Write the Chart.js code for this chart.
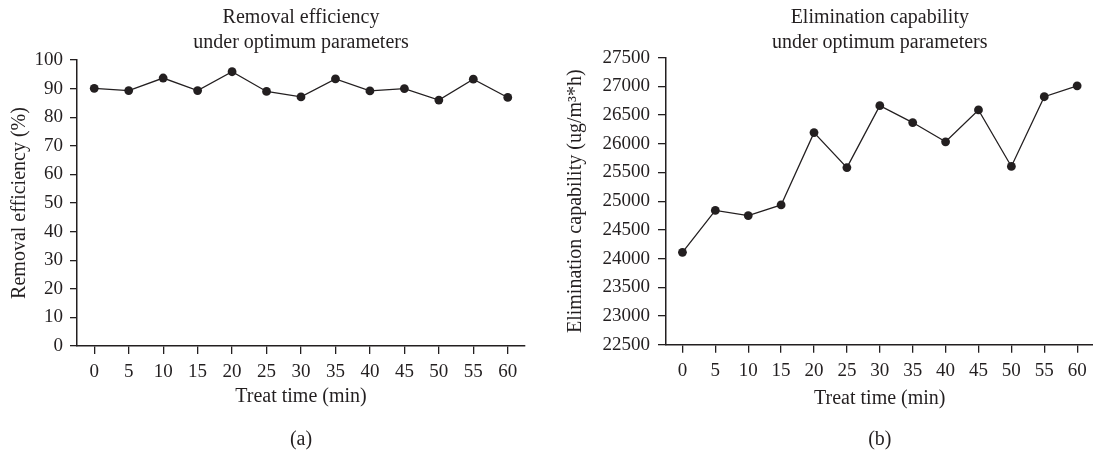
<!DOCTYPE html>
<html>
<head>
<meta charset="utf-8">
<script src="https://cdn.jsdelivr.net/npm/chart.js@4.4.1/dist/chart.umd.min.js"></script>
<style>
  html, body { margin: 0; padding: 0; background: #fff; overflow: hidden; }
  #wrap { position: relative; width: 1093px; height: 451px; overflow: hidden; }
  canvas { position: absolute; top: 0; }
</style>
</head>
<body>
<div id="wrap">
  <canvas id="c1" width="546" height="451" style="left:0px"></canvas>
  <canvas id="c2" width="552" height="451" style="left:546px"></canvas>
</div>
<script>
// ---- data ----
const treatTimes = ['0', '5', '10', '15', '20', '25', '30', '35', '40', '45', '50', '55', '60'];
const removalEfficiency = [90.1, 89.3, 93.7, 89.3, 95.9, 89.0, 87.1, 93.4, 89.2, 90.0, 86.0, 93.3, 86.9];
const eliminationCapability = [24110, 24840, 24750, 24935, 26195, 25585, 26665, 26370, 26035, 26590, 25605, 26820, 27010];

const ink = '#231f20';
const FONT = "'Liberation Serif', 'Times New Roman', serif";
Chart.defaults.font.family = FONT;
Chart.defaults.color = ink;

function makeChart(id, cfg) {
  return new Chart(document.getElementById(id), {
    type: 'line',
    data: {
      labels: treatTimes,
      datasets: [{
        data: cfg.values,
        borderColor: ink,
        backgroundColor: ink,
        borderWidth: 1.3,
        pointRadius: 4.4,
        pointHoverRadius: 4.4,
        pointBackgroundColor: ink,
        pointBorderColor: ink,
        pointBorderWidth: 0,
        tension: 0,
        clip: false
      }]
    },
    options: {
      responsive: false,
      animation: false,
      devicePixelRatio: 1,
      layout: { padding: { left: 0, right: cfg.padRight, top: 0, bottom: 0 } },
      plugins: {
        legend: { display: false },
        tooltip: { enabled: false },
        title: {
          display: true,
          text: cfg.title,
          fullSize: false,
          font: { size: 20, weight: 'normal', lineHeight: 1.25 },
          color: ink,
          padding: { top: 5.5, bottom: cfg.titlePadBottom }
        },
        subtitle: {
          display: true,
          text: cfg.panel,
          position: 'bottom',
          fullSize: false,
          font: { size: 20, weight: 'normal', lineHeight: 1.1 },
          color: ink,
          padding: { top: 0, bottom: 0 }
        }
      },
      scales: {
        x: {
          type: 'category',
          offset: true,
          grid: { display: true, drawOnChartArea: false, drawTicks: true, tickLength: 8, color: ink, lineWidth: 1.3 },
          border: { display: true, color: ink, width: 1.5 },
          ticks: { font: { size: 19 }, color: ink, padding: 7, maxRotation: 0, autoSkip: false },
          title: {
            display: true,
            text: 'Treat time (min)',
            font: { size: 20, lineHeight: 1.25 },
            color: ink,
            padding: { top: 0, bottom: cfg.xTitlePad }
          },
          afterFit: (s) => { s.height = cfg.xHeight; }
        },
        y: {
          min: cfg.min,
          max: cfg.max,
          grid: { display: true, drawOnChartArea: false, drawTicks: true, tickLength: cfg.yTick, color: ink, lineWidth: 1.3 },
          border: { display: true, color: ink, width: 1.5 },
          ticks: {
            stepSize: cfg.step,
            font: { size: 19 },
            color: ink,
            padding: cfg.yTick,
            callback: (v) => String(v)
          },
          title: {
            display: true,
            text: cfg.yTitle,
            font: { size: 20, lineHeight: 1.25 },
            color: ink,
            padding: { top: cfg.yTitlePad, bottom: 0 }
          },
          afterFit: (s) => { s.width = cfg.yWidth; }
        }
      }
    }
  });
}

makeChart('c1', {
  values: removalEfficiency,
  title: ['Removal efficiency', 'under optimum parameters'],
  panel: '(a)',
  yTitle: 'Removal efficiency (%)',
  min: 0, max: 100, step: 10,
  padRight: 21,
  titlePadBottom: 4.5,
  xHeight: 83,
  xTitlePad: 20,
  yWidth: 77,
  yTick: 7,
  yTitlePad: 7.5
});

makeChart('c2', {
  values: eliminationCapability,
  title: ['Elimination capability', 'under optimum parameters'],
  panel: '(b)',
  yTitle: 'Elimination capability (ug/m³*h)',
  min: 22500, max: 27500, step: 500,
  padRight: 3,
  titlePadBottom: 2.2,
  xHeight: 84.3,
  xTitlePad: 18,
  yWidth: 120,
  yTick: 8,
  yTitlePad: 17.5
});
</script>
</body>
</html>
